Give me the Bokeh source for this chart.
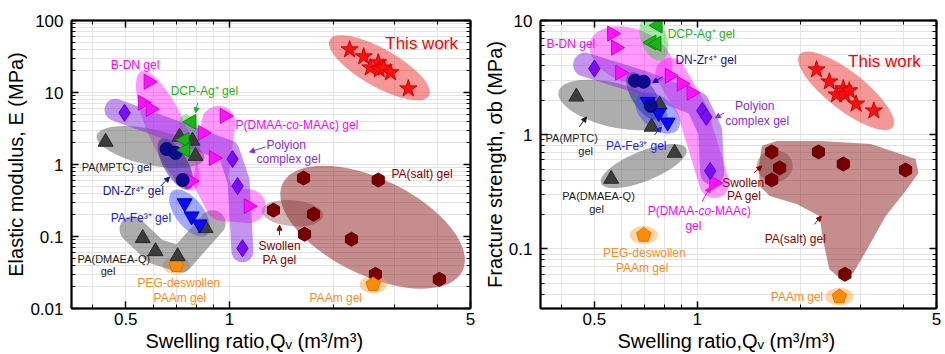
import math
from bokeh.plotting import figure
from bokeh.models import FixedTicker, LogAxis, Label, Arrow, NormalHead, Range1d, Title
from bokeh.layouts import row
from bokeh.embed import file_html
from bokeh.resources import INLINE

FONT = "Liberation Sans"

# ---------------- data (Q: swelling ratio m3/m3, E: modulus MPa, S: fracture strength MPa)
this_q_a = [2.23, 2.45, 2.56, 2.70, 2.72, 2.80, 2.93, 3.30]
this_e = [39.4, 31.5, 22.1, 26.0, 20.8, 22.1, 18.9, 11.3]
this_q_b = [2.23, 2.43, 2.55, 2.67, 2.70, 2.78, 2.91, 3.28]
this_s = [3.71, 2.91, 2.24, 2.53, 2.24, 2.43, 1.86, 1.62]

bdn_q_a = [0.582, 0.560, 0.590, 0.771]
bdn_e = [14.1, 7.2, 5.9, 0.589]
bdn_q_b = [0.563, 0.578, 0.594]
bdn_s = [7.69, 5.79, 3.49]

dmaa_q_a = [0.835, 0.899, 0.967, 1.135]
dmaa_e = [2.75, 1.23, 4.74, 0.264]
dmaa_q_b = [0.830, 0.899, 0.961, 1.12]
dmaa_s = [3.28, 2.79, 2.33, 0.377]

dcp_q_a = [0.776, 0.741, 0.745]
dcp_e = [3.91, 2.19, 1.59]
dcp_q_b = [0.766, 0.735, 0.760]
dcp_s = [9.04, 6.41, 6.26]

mptc_q_a = [0.437, 0.716, 0.781, 0.797]
mptc_e = [2.06, 2.42, 2.13, 1.31]
mptc_q_b = [0.443, 0.735, 0.776]
mptc_s = [2.15, 1.17, 1.83]

dmaea_q_a = [0.560, 0.610, 0.707, 0.852]
dmaea_e = [0.0946, 0.0623, 0.0530, 0.130]
dmaea_q_b = [0.560, 0.858]
dmaea_s = [0.409, 0.692]

zr_q_a = [0.657, 0.697, 0.731]
zr_e = [1.64, 1.45, 0.608]
zr_q_b = [0.657, 0.697, 0.731]
zr_s = [2.97, 2.91, 1.79]

fe_q_a = [0.741, 0.776, 0.819]
fe_e = [0.291, 0.191, 0.148]
fe_q_b = [0.716, 0.771, 0.819]
fe_s = [1.94, 1.55, 1.28]

pic_q_a = [0.496, 1.02, 1.055, 1.09]
pic_e = [5.22, 1.19, 0.501, 0.0686]
pic_q_b = [0.50, 1.034, 1.062, 1.09]
pic_s = [3.79, 1.62, 1.43, 0.481]

salt_q_a = [1.639, 2.70, 1.650, 2.258, 2.65, 4.06]
salt_e = [0.648, 0.608, 0.1075, 0.0916, 0.0298, 0.0254]
salt_q_b = [2.26, 2.67, 4.06, 2.70]
salt_s = [0.706, 0.553, 0.490, 0.0598]

swollen_q_a = [1.341, 1.752]
swollen_e = [0.232, 0.204]
swollen_q_b = [1.65, 1.74, 1.65]
swollen_s = [0.706, 0.511, 0.401]

paam_q_a = [2.61]
paam_e = [0.0216]
paam_q_b = [2.60]
paam_s = [0.0381]

peg_q_a = [0.701]
peg_e = [0.0397]
peg_q_b = [0.697]
peg_s = [0.132]

# axis ticks
x_ticks = [0.5, 1, 5]
x_minor = [0.4, 0.6, 0.7, 0.8, 0.9, 2, 3, 4]
ya_ticks = [0.01, 0.1, 1, 10, 100]
yb_ticks = [0.1, 1, 10]

# ---------------- highlight regions (centre in data units, size in screen px, angle in degrees)
ell_a = [
    ("salt", 2.6, 0.1346, 200, 96, -26),
    ("swollen", 1.523, 0.211, 62, 26, -5),
    ("this", 2.72, 22.1, 114, 38, -29.5),
    ("bdn", 0.661, 2.93, 130, 38, -66),
    ("mptc", 0.590, 1.75, 110, 36, -12),
    ("dcp", 0.766, 2.49, 44, 20, -77),
    ("zr", 0.697, 1.016, 58, 24, -60),
    ("fe", 0.766, 0.211, 56, 28, -52),
    ("paam", 2.61, 0.0216, 27, 18, 0),
    ("peg", 0.701, 0.0397, 27, 18, 0),
]
bands_a = [
    ("dmaea", [0.523, 0.610, 0.721, 0.893], [0.126, 0.0623, 0.0482, 0.153], 26),
    ("dmaa", [0.929, 0.881, 0.954, 1.135], [3.79, 0.589, 0.2815, 0.264], 34),
    ("pic", [0.467, 0.993, 1.062, 1.09], [5.75, 1.54, 0.589, 0.0623], 22),
]
ell_b = [
    ("swollen", 1.683, 0.532, 36, 32, 0),
    ("this", 2.72, 2.42, 118, 38, -38),
    ("bdn", 0.639, 4.93, 86, 54, -20),
    ("dcp", 0.746, 6.95, 46, 26, -70),
    ("mptc", 0.567, 1.82, 112, 44, -14),
    ("dmaea", 0.697, 0.531, 92, 30, 22),
    ("zr", 0.697, 2.19, 54, 24, -58),
    ("fe", 0.766, 1.55, 52, 32, -40),
    ("paam", 2.60, 0.0381, 28, 18, 0),
    ("peg", 0.697, 0.132, 28, 18, 0),
]
bands_b = [
    ("dmaa", [0.835, 0.967, 1.12], [3.49, 1.62, 0.377], 30),
    ("pic", [0.470, 0.693, 1.0, 1.09, 1.105], [4.11, 2.85, 1.866, 1.08, 0.462], 24),
]
salt_region_q = [1.543, 1.706, 2.303, 3.215, 4.342, 4.43, 4.06, 3.553, 3.11, 2.852,
                 2.633, 2.43, 2.334, 2.273, 1.95, 1.628, 1.522, 1.513]
salt_region_s = [0.797, 0.882, 0.882, 0.830, 0.613, 0.462, 0.321, 0.1934, 0.0952, 0.061,
                 0.054, 0.0662, 0.1167, 0.1934, 0.2465, 0.29, 0.355, 0.532]

# ---------------- styles
region_style = {
    "this": ("#ee3030", 0.5), "bdn": ("#ff00ff", 0.4), "dmaa": ("#ff00ff", 0.4),
    "dcp": ("#33cc33", 0.45), "mptc": ("#6a6a6a", 0.55), "dmaea": ("#6a6a6a", 0.55),
    "zr": ("#1c1c9c", 0.5), "fe": ("#3040ff", 0.45), "pic": ("#8a2be2", 0.5),
    "salt": ("#8b1c1c", 0.5), "swollen": ("#7a2a2a", 0.35), "paam": ("#ffa033", 0.45),
    "peg": ("#ffa033", 0.45),
}
marker_style = {
    "this": ("star", 0, 18, "#ff1010", "#d00000"),
    "bdn": ("triangle", -math.pi / 2, 15, "#ff10ff", "#d000d0"),
    "dmaa": ("triangle", -math.pi / 2, 15, "#ff10ff", "#d000d0"),
    "dcp": ("triangle", math.pi / 2, 15, "#18b418", "#0e8a0e"),
    "mptc": ("triangle", 0, 15, "#3c3c3c", "#2a2a2a"),
    "dmaea": ("triangle", 0, 15, "#3c3c3c", "#2a2a2a"),
    "zr": ("circle", 0, 13, "#0b0b8f", "#060660"),
    "fe": ("inverted_triangle", 0, 15, "#0a0aff", "#0000c0"),
    "pic": ("diamond", 0, 17, "#7a0cff", "#5a00c0"),
    "salt": ("hex", math.pi / 6, 14, "#7a0000", "#5a0000"),
    "swollen": ("hex", math.pi / 6, 14, "#7a0000", "#5a0000"),
}
MAG, GRN, NAV, BLU, PUR, RED, DRD, ORG, BLK = ("#ff00ff", "#22b422", "#141496", "#1a1aff",
                                              "#8a2be2", "#ff0000", "#8b0000", "#ff8c1a", "#1a1a1a")

labels_a = [
    ("B-DN gel", 0.452, 24.4, MAG, 12),
    ("DCP-Ag⁺ gel", 0.675, 10.6, GRN, 12),
    ("Polyion", 1.28, 1.87, PUR, 12),
    ("complex gel", 1.198, 1.19, PUR, 12),
    ("This work", 2.83, 47.8, RED, 17),
    ("PA(salt) gel", 2.95, 0.737, DRD, 12),
    ("PA(MPTC) gel", 0.3724, 0.923, BLK, 11),
    ("DN-Zr⁴⁺ gel", 0.4285, 0.427, NAV, 12),
    ("PA-Fe³⁺ gel", 0.452, 0.1796, BLU, 12),
    ("PA(DMAEA-Q)", 0.3625, 0.0482, BLK, 11),
    ("gel", 0.4228, 0.0328, BLK, 11),
    ("PEG-deswollen", 0.541, 0.0223, ORG, 12),
    ("PAAm gel", 0.602, 0.01378, ORG, 12),
    ("Swollen", 1.214, 0.0731, DRD, 12),
    ("PA gel", 1.246, 0.0467, DRD, 12),
    ("PAAm gel", 1.706, 0.01378, ORG, 12),
]
labels_b = [
    ("B-DN gel", 0.3625, 6.28, MAG, 12),
    ("DCP-Ag⁺ gel", 0.819, 7.69, GRN, 12),
    ("DN-Zr⁴⁺ gel", 0.863, 4.54, NAV, 12),
    ("This work", 2.758, 4.36, RED, 17),
    ("Polyion", 1.289, 1.79, PUR, 12),
    ("complex gel", 1.206, 1.32, PUR, 12),
    ("PA(MPTC)", 0.360, 0.937, BLK, 11),
    ("gel", 0.449, 0.721, BLK, 11),
    ("PA-Fe³⁺ gel", 0.541, 0.797, BLU, 12),
    ("PA(DMAEA-Q)", 0.403, 0.29, BLK, 11),
    ("gel", 0.483, 0.223, BLK, 11),
    ("gel", 0.923, 0.158, MAG, 12),
    ("Swollen", 1.182, 0.377, DRD, 12),
    ("PA gel", 1.221, 0.29, DRD, 12),
    ("PA(salt) gel", 1.574, 0.1215, DRD, 12),
    ("PEG-deswollen", 0.530, 0.0914, ORG, 12),
    ("PAAm gel", 0.578, 0.0676, ORG, 12),
    ("PAAm gel", 1.639, 0.0376, ORG, 12),
]
dmaa_label_a = (1.041, 3.55, " gel")
dmaa_label_b = (0.716, 0.213, "")

arrows_a = [
    (0.808, 7.2, 0.797, 5.22, GRN),
    (0.631, 0.501, 0.670, 0.670, NAV),
    (1.272, 1.754, 1.143, 1.493, PUR),
    (1.396, 0.104, 1.396, 0.1435, DRD),
]
arrows_b = [
    (0.792, 3.22, 0.741, 2.85, NAV),
    (0.452, 1.17, 0.474, 1.43, BLK),
    (0.750, 0.996, 0.786, 1.17, BLU),
    (1.034, 0.262, 1.09, 0.347, MAG),
    (1.198, 1.55, 1.128, 1.40, PUR),
    (1.463, 0.462, 1.543, 0.532, DRD),
    (2.198, 0.1638, 2.303, 0.1934, DRD),
]

X_RANGE = (0.348, 5.0)
X_TITLE = "Swelling ratio,Qᵥ (m³/m³)"
FRAME_W, FRAME_H = 399, 287


def make_fig(width, left, right, y_range, yticks, ylabel, title_offset):
    p = figure(width=width, height=354, x_axis_type="log", y_axis_type="log",
               x_range=Range1d(*X_RANGE), y_range=Range1d(*y_range),
               output_backend="svg", toolbar_location=None,
               min_border_left=left, min_border_right=right,
               min_border_top=20, min_border_bottom=46)
    p.background_fill_color = "white"
    p.border_fill_color = "white"
    p.outline_line_color = "black"
    p.outline_line_width = 1.5
    lo = math.floor(math.log10(y_range[0]))
    hi = math.ceil(math.log10(y_range[1]))
    yminor = [k * 10 ** e for e in range(lo, hi) for k in range(2, 10)
              if y_range[0] < k * 10 ** e < y_range[1]]
    xt = FixedTicker(ticks=x_ticks, minor_ticks=x_minor)
    yt = FixedTicker(ticks=yticks, minor_ticks=yminor)
    p.xaxis.ticker = xt
    p.yaxis.ticker = yt
    p.xgrid.ticker = xt
    p.ygrid.ticker = yt
    for g in (p.xgrid, p.ygrid):
        g.grid_line_color = "#e3e3e3"
        g.minor_grid_line_color = "#e3e3e3"
        g.grid_line_width = 1
    p.xaxis.major_label_overrides = {t: f"{t:g}" for t in x_ticks}
    p.yaxis.major_label_overrides = {t: f"{t:g}" for t in yticks}
    p.yaxis.axis_label = ylabel
    for ax in (p.xaxis[0], p.yaxis[0]):
        ax.axis_line_width = 2
        ax.major_tick_in = 7
        ax.major_tick_out = 0
        ax.minor_tick_in = 4
        ax.minor_tick_out = 0
        ax.major_tick_line_width = 1.5
        ax.major_label_text_font = FONT
        ax.major_label_text_font_size = "17px"
        ax.major_label_text_color = "black"
        ax.axis_label_text_font = FONT
        ax.axis_label_text_font_size = "20px"
        ax.axis_label_text_font_style = "normal"
        ax.axis_label_text_color = "black"
        ax.axis_label_standoff = 0
    p.xaxis.major_label_standoff = 4
    p.yaxis.major_label_standoff = 8
    for side, tk in (("right", yt), ("above", xt)):
        ax = LogAxis(ticker=tk, major_label_text_font_size="1px", major_label_text_color=None,
                     major_label_standoff=0,
                     major_tick_in=7, major_tick_out=0, minor_tick_in=4, minor_tick_out=0,
                     axis_line_width=2, major_tick_line_width=1.5)
        p.add_layout(ax, side)
    # x-axis title, left of centre as in the original
    p.add_layout(Title(text=X_TITLE, align="left", offset=title_offset, standoff=0,
                       text_font=FONT, text_font_size="20px", text_font_style="normal",
                       text_color="black"), "below")
    return p


def pentagon(qs, vs, p_yrange, r=7.5):
    ppd_x = FRAME_W / math.log10(X_RANGE[1] / X_RANGE[0])
    ppd_y = FRAME_H / math.log10(p_yrange[1] / p_yrange[0])
    xs, ys = [], []
    for q, v in zip(qs, vs):
        ang = [math.pi / 2 + 2 * math.pi * k / 5 for k in range(5)]
        xs.append([q * 10 ** (r * math.cos(a) / ppd_x) for a in ang])
        ys.append([v * 10 ** (r * math.sin(a) / ppd_y) for a in ang])
    return xs, ys


def draw(p, y_range, ells, bands, groups, labels, arrows, dmaa_label, extra_patch=None):
    if extra_patch is not None:
        c, a = region_style["salt"]
        p.patch(extra_patch[0], extra_patch[1], fill_color=c, fill_alpha=a, line_color=None)
    for name, cx, cy, w, h, ang in ells:
        c, a = region_style[name]
        p.ellipse(x=[cx], y=[cy], width=[w], height=[h], angle=[math.radians(ang)],
                  width_units="screen", height_units="screen",
                  fill_color=c, fill_alpha=a, line_color=None)
    for name, xs, ys, w in bands:
        c, a = region_style[name]
        p.line(xs, ys, line_width=w, line_color=c, line_alpha=a,
               line_cap="round", line_join="round")
    for name, qs, vs in groups:
        if name in ("paam", "peg"):
            px, py = pentagon(qs, vs, y_range)
            p.patches(px, py, fill_color="#ff8c00", line_color="#e07000", line_width=1)
            continue
        mk, ang, size, fc, lc = marker_style[name]
        p.scatter(qs, vs, marker=mk, angle=ang, size=size, fill_color=fc,
                  line_color=lc, line_width=1)
    for text, x, y, col, size in labels:
        p.add_layout(Label(x=x, y=y, text=text, text_color=col, text_font=FONT,
                           text_font_size=f"{size}px", text_baseline="middle",
                           text_align="left"))
    # P(DMAA-co-MAAc) with italic "co"
    x, y, tail = dmaa_label
    for txt, off, style in (("P(DMAA-", 0, "normal"), ("co", 50.7, "italic"),
                            ("-MAAc)" + tail, 63.4, "normal")):
        p.add_layout(Label(x=x, y=y, x_offset=off, text=txt, text_color=MAG, text_font=FONT,
                           text_font_size="12px", text_baseline="middle", text_align="left",
                           text_font_style=style))
    for xs, ys, xe, ye, col in arrows:
        p.add_layout(Arrow(x_start=xs, y_start=ys, x_end=xe, y_end=ye, line_color=col,
                           line_width=1, end=NormalHead(size=5, fill_color=col,
                                                        line_color=col)))


YA = (0.01, 100)
YB = (0.03, 10)
pa = make_fig(480, 71, 10, YA, ya_ticks, "Elastic modulus, E (MPa)", 74)
pb = make_fig(465, 57, 9, YB, yb_ticks, "Fracture strength, σb (MPa)", 77)

groups_a = [("salt", salt_q_a, salt_e), ("swollen", swollen_q_a, swollen_e),
            ("paam", paam_q_a, paam_e), ("peg", peg_q_a, peg_e),
            ("mptc", mptc_q_a, mptc_e), ("dmaea", dmaea_q_a, dmaea_e),
            ("bdn", bdn_q_a, bdn_e), ("dmaa", dmaa_q_a, dmaa_e),
            ("pic", pic_q_a, pic_e), ("fe", fe_q_a, fe_e), ("zr", zr_q_a, zr_e),
            ("dcp", dcp_q_a, dcp_e), ("this", this_q_a, this_e)]
groups_b = [("salt", salt_q_b, salt_s), ("swollen", swollen_q_b, swollen_s),
            ("paam", paam_q_b, paam_s), ("peg", peg_q_b, peg_s),
            ("mptc", mptc_q_b, mptc_s), ("dmaea", dmaea_q_b, dmaea_s),
            ("bdn", bdn_q_b, bdn_s), ("dmaa", dmaa_q_b, dmaa_s),
            ("pic", pic_q_b, pic_s), ("fe", fe_q_b, fe_s), ("zr", zr_q_b, zr_s),
            ("dcp", dcp_q_b, dcp_s), ("this", this_q_b, this_s)]

draw(pa, YA, ell_a, bands_a, groups_a, labels_a, arrows_a, dmaa_label_a)
draw(pb, YB, ell_b, bands_b, groups_b, labels_b, arrows_b, dmaa_label_b,
     extra_patch=(salt_region_q, salt_region_s))

# panel letters
for p, yr, letter, off in ((pa, YA, "a", -64), (pb, YB, "b", -52)):
    p.add_layout(Label(x=X_RANGE[0], y=yr[1], x_offset=off, y_offset=-12, text=letter,
                       text_font=FONT, text_font_size="30px", text_font_style="bold",
                       text_color="black", text_baseline="alphabetic", text_align="left"))

layout = row(pa, pb)
open("out.html", "w").write(file_html(layout, INLINE))
